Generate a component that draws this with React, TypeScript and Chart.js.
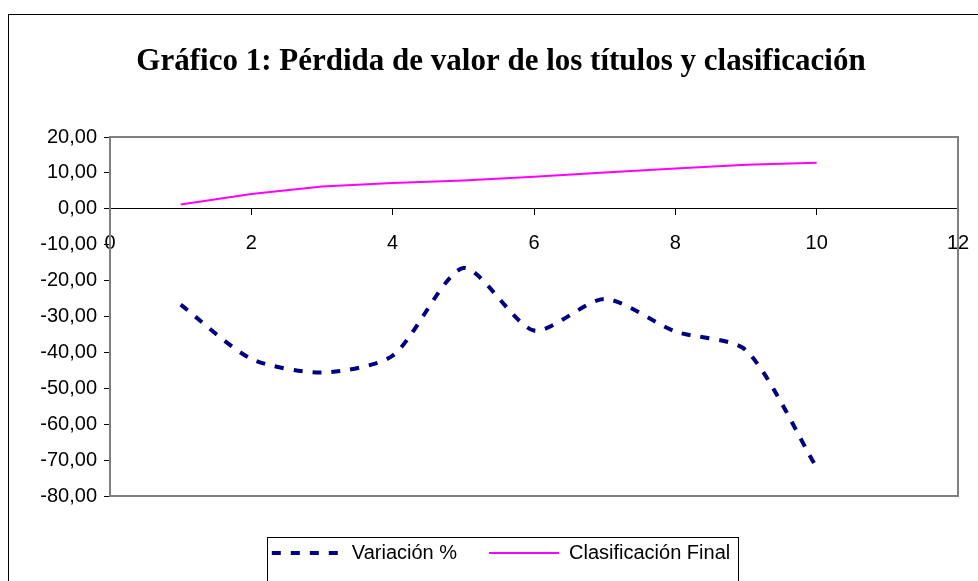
import React, { useEffect, useRef } from "react";
import { Chart, registerables } from "chart.js";

Chart.register(...registerables);

// ---- Data ----
const titleText = "Gráfico 1: Pérdida de valor de los títulos y clasificación";
const positions = [1, 2, 3, 4, 5, 6, 7, 8, 9, 10];
const variacion = [-26.7, -41.8, -45.6, -40.9, -16.5, -33.9, -25.1, -34.2, -39.4, -72.1];
const clasificacion = [1.2, 4.1, 6.2, 7.2, 7.9, 8.9, 10.1, 11.2, 12.3, 12.8];
const seriesNames = ["Variación %", "Clasificación Final"];
const yMin = -80;
const yMax = 20;
const yStep = 10;
const xMin = 0;
const xMax = 12;
const xStep = 2;

const framePlugin = {
  id: "framePlugin",
  beforeDatasetsDraw(chart: any) {
    const { ctx, chartArea } = chart;
    ctx.save();
    ctx.strokeStyle = "#808080";
    ctx.lineWidth = 2;
    ctx.strokeRect(chartArea.left, chartArea.top, chartArea.right - chartArea.left, chartArea.bottom - chartArea.top);
    ctx.restore();
  },
  afterDraw(chart: any) {
    const { ctx } = chart;
    ctx.save();
    // outer chart border
    ctx.strokeStyle = "#000";
    ctx.lineWidth = 1;
    ctx.strokeRect(8.5, 14.5, chart.width + 20, chart.height + 20);
    // legend border
    const legend = chart.legend;
    if (legend && legend.legendHitBoxes && legend.legendHitBoxes.length) {
      const hb = legend.legendHitBoxes;
      const first = hb[0];
      const last = hb[hb.length - 1];
      const left = Math.round(first.left - 5) + 0.5;
      const right = Math.round(last.left + last.width + 8) + 0.5;
      const top = Math.round(first.top + first.height / 2 - 16) + 0.5;
      ctx.strokeStyle = "#000";
      ctx.lineWidth = 1;
      ctx.strokeRect(left, top, right - left, chart.height + 20 - top);
    }
    ctx.restore();
  },
};

export default function App() {
  const canvasRef = useRef<HTMLCanvasElement | null>(null);

  useEffect(() => {
    if (!canvasRef.current) return;
    const chart = new Chart(canvasRef.current, {
      type: "line",
      data: {
        datasets: [
          {
            label: seriesNames[0],
            data: positions.map((x, i) => ({ x, y: variacion[i] })),
            borderColor: "#000080",
            backgroundColor: "#000080",
            borderWidth: 4,
            borderDash: [9, 10],
            tension: 0.25,
            pointRadius: 0,
            fill: false,
          },
          {
            label: seriesNames[1],
            data: positions.map((x, i) => ({ x, y: clasificacion[i] })),
            borderColor: "#FF00FF",
            backgroundColor: "#FF00FF",
            borderWidth: 2,
            tension: 0,
            pointRadius: 0,
            fill: false,
          },
        ],
      },
      options: {
        responsive: false,
        animation: false,
        events: [],
        layout: { padding: { left: 30, right: 6, top: 0, bottom: 8 } },
        scales: {
          x: {
            type: "linear",
            position: { y: 0 },
            min: xMin,
            max: xMax,
            afterFit: (s: any) => {
              s.paddingRight = 20;
              s.paddingLeft = 0;
            },
            ticks: {
              stepSize: xStep,
              padding: 17,
              color: "#000",
              font: { family: "Arial, 'Liberation Sans', sans-serif", size: 20 },
              maxRotation: 0,
            },
            grid: { drawOnChartArea: false, drawTicks: true, tickLength: 6, tickColor: "#000" },
            border: { color: "#000", width: 1 },
          },
          y: {
            type: "linear",
            position: "left",
            min: yMin,
            max: yMax,
            afterFit: (s: any) => {
              s.width = 80;
            },
            ticks: {
              stepSize: yStep,
              padding: 7,
              color: "#000",
              font: { family: "Arial, 'Liberation Sans', sans-serif", size: 20 },
              callback: (v: any) => Number(v).toFixed(2).replace(".", ","),
            },
            grid: { drawOnChartArea: false, drawTicks: true, tickLength: 6, tickColor: "#000" },
            border: { color: "#000", width: 1 },
          },
        },
        plugins: {
          title: {
            display: true,
            text: titleText,
            color: "#000",
            font: { family: "'Times New Roman', 'Liberation Serif', serif", size: 31, weight: "bold", lineHeight: 1.2 },
            padding: { top: 43, bottom: 56.8 },
          },
          legend: {
            display: true,
            position: "bottom",
            title: { display: true, text: " ", font: { size: 10, lineHeight: 1 }, padding: { top: 5, bottom: 0 } },
            labels: {
              color: "#000",
              font: { family: "Arial, 'Liberation Sans', sans-serif", size: 20 },
              usePointStyle: true,
              pointStyle: "line",
              pointStyleWidth: 70,
              padding: 32,
              generateLabels: (chart: any) => {
                const items = Chart.defaults.plugins.legend.labels.generateLabels(chart);
                return items.map((item: any) => {
                  const ds: any = chart.data.datasets[item.datasetIndex];
                  return {
                    ...item,
                    lineDash: ds.borderDash || [],
                    lineWidth: ds.borderWidth,
                    strokeStyle: ds.borderColor,
                    fillStyle: ds.borderColor,
                  };
                });
              },
            },
          },
          tooltip: { enabled: false },
        },
      },
      plugins: [framePlugin],
    });
    return () => chart.destroy();
  }, []);

  return (
    <div style={{ position: "fixed", left: 0, top: 0, width: 978, height: 581, overflow: "hidden", background: "#fff" }}>
      <canvas ref={canvasRef} width={978} height={581} style={{ display: "block" }} />
    </div>
  );
}
